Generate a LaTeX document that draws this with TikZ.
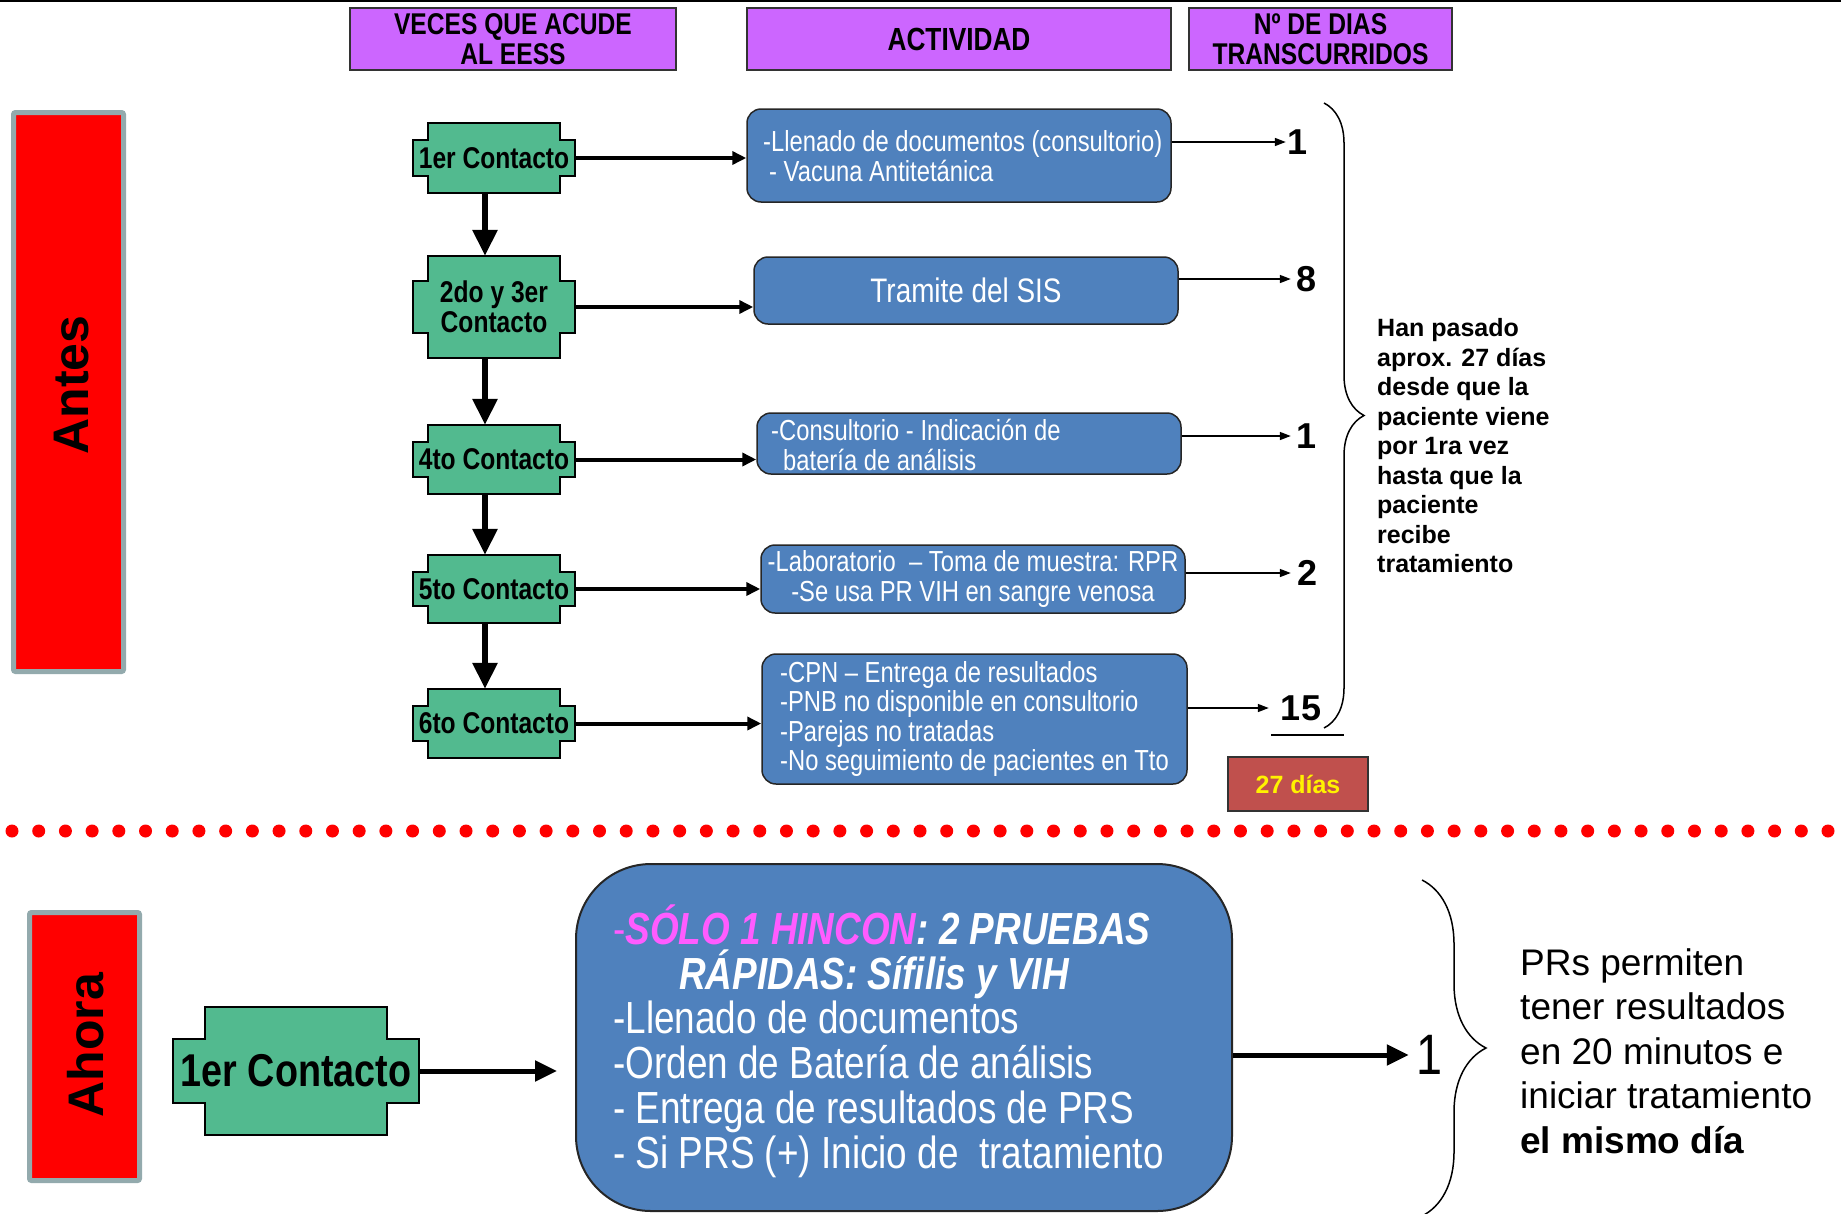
\documentclass[tikz,border=0pt]{standalone}
\usepackage{fontspec}
\setmainfont{Liberation Sans}
\newfontfamily\nar[FakeStretch=0.82]{Liberation Sans}
\usetikzlibrary{arrows.meta,decorations.pathreplacing,calc}
\pgfdeclarelayer{bg}
\pgfsetlayers{bg,main}
\definecolor{hdr}{HTML}{CC66FF}
\definecolor{grn}{HTML}{52BA8F}
\definecolor{blu}{HTML}{4F81BD}
\definecolor{bord}{HTML}{93AAAD}
\definecolor{rosa}{HTML}{FF5CFF}
\definecolor{dias}{HTML}{C0504D}
\tikzset{
 ctext/.style={inner sep=0pt, font=\nar\bfseries\fontsize{30}{30}\selectfont, align=center, text=black},
 cshape/.style={fill=grn, draw=black, line width=2pt, line join=miter},
 bbox/.style={rectangle, rounded corners=14pt, fill=blu, draw=black!85, line width=1.5pt, inner sep=0pt},
 btext/.style={inner sep=0pt, text=white, align=left, font=\nar\fontsize{29}{30.5}\selectfont},
 hbox/.style={fill=hdr, draw=black!80, line width=1.5pt, inner sep=0pt, align=center, font=\nar\bfseries\fontsize{30}{30.5}\selectfont},
 vbar/.style={fill=red, draw=bord, line width=5pt, rounded corners=2pt, inner sep=0pt},
 vtext/.style={rotate=90, font=\bfseries\fontsize{50}{50}\selectfont, inner sep=0pt},
 varrow/.style={line width=6pt, -{Triangle[width=24pt,length=26pt]}},
 harrow/.style={line width=4pt, -{Triangle[width=13pt,length=14pt]}},
 tarrow/.style={line width=1.5pt, -{Triangle[width=8pt,length=11pt]}},
 barrow/.style={line width=5pt, -{Triangle[width=20pt,length=22pt]}},
 num/.style={font=\bfseries\fontsize{36}{36}\selectfont, inner sep=1pt},
 bracestyle/.style={decorate, line width=1.5pt},
}
\newcommand{\contacto}[9][]{%
  \node[ctext, minimum width=#5pt, minimum height=#6pt, #1] (#2) at (#3,#4) {#9};
  \begin{pgfonlayer}{bg}
  \draw[cshape] ([xshift=#7pt]#2.north west) -- ([xshift=-#7pt]#2.north east)
   -- ([xshift=-#7pt,yshift=-#8pt]#2.north east) -- ([yshift=-#8pt]#2.north east)
   -- ([yshift=#8pt]#2.south east) -- ([xshift=-#7pt,yshift=#8pt]#2.south east)
   -- ([xshift=-#7pt]#2.south east) -- ([xshift=#7pt]#2.south west)
   -- ([xshift=#7pt,yshift=#8pt]#2.south west) -- ([yshift=#8pt]#2.south west)
   -- ([yshift=-#8pt]#2.north west) -- ([xshift=#7pt,yshift=-#8pt]#2.north west) -- cycle;
  \end{pgfonlayer}
}
\begin{document}
\begin{tikzpicture}[x=1pt,y=-1pt]
\useasboundingbox (0,0) rectangle (1841,1213);
\draw[line width=2pt] (0,1) -- (1841,1);

% headers
\node[hbox, minimum width=326pt, minimum height=62pt] (h1) at (513,39) {VECES QUE ACUDE\\AL EESS};
\node[hbox, minimum width=424pt, minimum height=62pt, font=\nar\bfseries\fontsize{32}{32}\selectfont] (h2) at (959,39) {ACTIVIDAD};
\node[hbox, minimum width=263pt, minimum height=62pt] (h3) at (1320.5,39) {Nº DE DIAS\\TRANSCURRIDOS};

% side bars
\node[vbar, minimum width=110pt, minimum height=559pt] (antesbox) at (68.5,392) {};
\node[vtext] (antes) at (72,385) {Antes};
\node[vbar, minimum width=110pt, minimum height=268pt] (ahorabox) at (84.5,1046.5) {};
\node[vtext] (ahora) at (86,1045) {Ahora};

% contacts
\contacto{g1}{494}{158}{162}{70}{15}{17}{1er Contacto}
\contacto{g2}{494}{307}{162}{102}{15}{25}{2do y 3er\\Contacto}
\contacto{g4}{494}{459.5}{162}{69}{15}{17}{4to Contacto}
\contacto{g5}{494}{589}{162}{68}{15}{17}{5to Contacto}
\contacto{g6}{494}{723.5}{162}{69}{15}{17}{6to Contacto}

\draw[varrow] ([xshift=-9pt]g1.south) -- ([xshift=-9pt]g2.north);
\draw[varrow] ([xshift=-9pt]g2.south) -- ([xshift=-9pt]g4.north);
\draw[varrow] ([xshift=-9pt]g4.south) -- ([xshift=-9pt]g5.north);
\draw[varrow] ([xshift=-9pt]g5.south) -- ([xshift=-9pt]g6.north);

% activity boxes
\node[bbox, minimum width=424pt, minimum height=93pt] (bA) at (959,155.5) {};
\node[btext, anchor=west] (tA) at (763,156) {-Llenado de documentos (consultorio)\\\hspace*{6pt}- Vacuna Antitetánica};
\node[bbox, minimum width=424pt, minimum height=67pt, text=white, font=\nar\fontsize{34}{34}\selectfont] (bB) at (966,290.5) {Tramite del SIS};
\node[bbox, minimum width=424pt, minimum height=61pt] (bC) at (969,443.5) {};
\node[btext, anchor=west] (tC) at (771,445) {-Consultorio - Indicación de\\\hspace*{12pt}batería de análisis};
\node[bbox, minimum width=424pt, minimum height=68pt] (bD) at (973,579) {};
\node[btext, align=center] (tD) at (973,579) {-Laboratorio\ \ – Toma de muestra: RPR\\-Se usa PR VIH en sangre venosa};
\node[bbox, minimum width=425pt, minimum height=130pt] (bE) at (974.5,719) {};
\node[btext, anchor=west, font=\nar\fontsize{29}{29.3}\selectfont] (tE) at (780,719) {-CPN – Entrega de resultados\\-PNB no disponible en consultorio\\-Parejas no tratadas\\-No seguimiento de pacientes en Tto};

\draw[harrow] (g1.east) -- (g1.east -| bA.west);
\draw[harrow] (g2.east) -- (g2.east -| bB.west);
\draw[harrow] (g4.east) -- (g4.east -| bC.west);
\draw[harrow] (g5.east) -- (g5.east -| bD.west);
\draw[harrow] (g6.east) -- (g6.east -| bE.west);

% numbers
\node[num] (n1) at (1297,142) {1};
\node[num] (n2) at (1306,279) {8};
\node[num] (n3) at (1306,436) {1};
\node[num] (n4) at (1307,573) {2};
\node[num] (n5) at (1301,708) {15};
\draw[tarrow] (bA.east |- n1.west) -- (n1.west);
\draw[tarrow, shorten >=4pt] (bB.east |- n2.west) -- (n2.west);
\draw[tarrow, shorten >=4pt] (bC.east |- n3.west) -- (n3.west);
\draw[tarrow, shorten >=5pt] (bD.east |- n4.west) -- (n4.west);
\draw[tarrow, shorten >=11pt] (bE.east |- n5.west) -- (n5.west);
\draw[line width=2pt] (1271,735) -- (1344,735);

\draw[bracestyle, decoration={brace, amplitude=40pt}] (1324,103) -- (1324,728);
\node[anchor=west, align=left, inner sep=0pt, font=\bfseries\fontsize{25}{29.5}\selectfont] (han) at (1377,446)
 {Han pasado\\aprox. 27 días\\desde que la\\paciente viene\\por 1ra vez\\hasta que la\\paciente\\recibe\\tratamiento};

\node[fill=dias, draw=black!80, line width=1.5pt, minimum width=140pt, minimum height=54pt, inner sep=0pt, text=yellow, font=\bfseries\fontsize{25}{25}\selectfont] (d27) at (1298,784) {27 días};

% dotted separator
\foreach \i in {0,...,68} \fill[red] ({12+\i*26.706},831) circle[radius=6.5pt];

% bottom part
\contacto[font=\nar\bfseries\fontsize{46}{46}\selectfont]{G}{296}{1071}{246}{128}{32}{32}{1er Contacto}
\node[bbox, rounded corners=75pt, line width=2pt, minimum width=656pt, minimum height=347pt] (B) at (904,1037.5) {};
\node[btext, anchor=west, font=\nar\fontsize{45}{44.8}\selectfont] (BT) at (613,1041)
 {{\color{rosa}-\bfseries\itshape SÓLO 1 HINCON}{\bfseries\itshape : 2 PRUEBAS}\\
  \hspace*{66pt}{\bfseries\itshape RÁPIDAS: Sífilis y VIH}\\
  -Llenado de documentos\\
  -Orden de Batería de análisis\\
  - Entrega de resultados de PRS\\
  - Si PRS (+) Inicio de\ \ tratamiento};
\draw[barrow, shorten >=18pt] (G.east) -- (G.east -| B.west);
\node[font=\nar\fontsize{57}{57}\selectfont, inner sep=1pt] (one) at (1429,1055) {1};
\draw[barrow, shorten >=6pt] (B.east |- one.west) -- (one.west);
\draw[bracestyle, decoration={brace, amplitude=64pt}] (1422,880) -- (1422,1216);
\node[anchor=west, align=left, inner sep=0pt, font=\fontsize{37}{44.6}\selectfont] (pr) at (1520,1051)
 {PRs permiten\\tener resultados\\en 20 minutos e\\iniciar tratamiento\\\textbf{el mismo día}};
\end{tikzpicture}
\end{document}
